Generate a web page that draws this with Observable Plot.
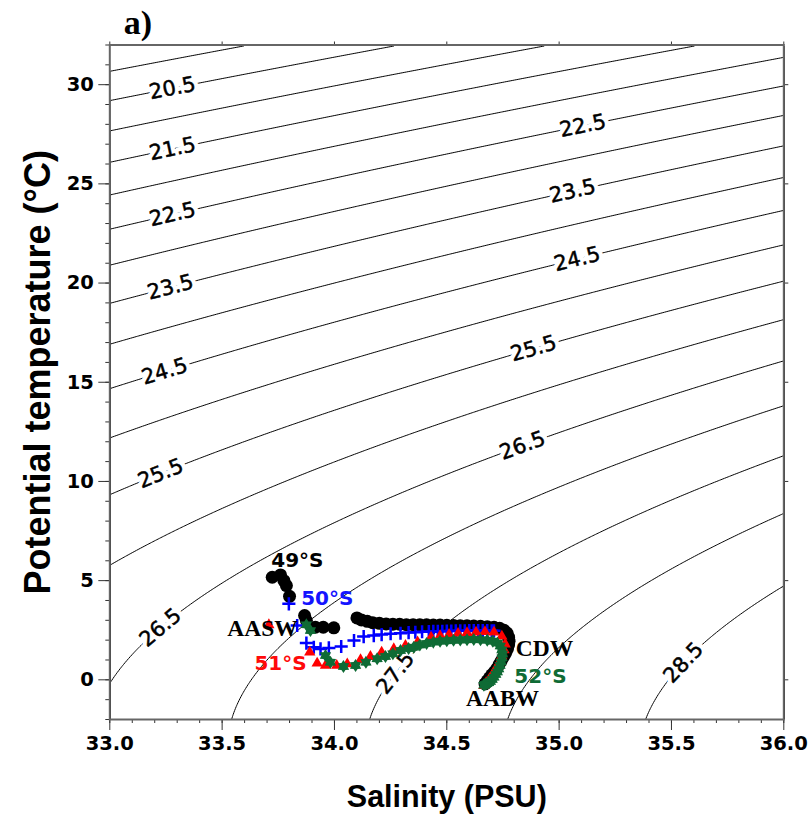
<!DOCTYPE html>
<html><head><meta charset="utf-8">
<script src="https://cdn.jsdelivr.net/npm/d3@7"></script>
<script src="https://cdn.jsdelivr.net/npm/@observablehq/plot@0.6"></script>
<style>html,body{margin:0;padding:0;background:#fff;overflow:hidden}</style>
</head><body><div id="chart"></div>
<script>
// ---- data ----
const isopycnals = [20, 20.5, 21, 21.5, 22, 22.5, 23, 23.5, 24, 24.5, 25, 25.5, 26, 26.5, 27, 27.5, 28, 28.5];
const contourLabelLevel = [20.5, 21.5, 22.5, 23.5, 24.5, 25.5, 26.5, 22.5, 23.5, 24.5, 25.5, 26.5, 27.5, 28.5];
const contourLabelS = [33.279, 33.279, 33.279, 33.27, 33.244, 33.226, 33.226, 35.105, 35.06, 35.08, 34.886, 34.837, 34.272, 35.553];

const s49 = [33.723, 33.76, 33.775, 33.786, 33.80, 33.867, 33.875, 33.915, 33.95, 33.997, 34.10, 34.12, 34.146, 34.17, 34.2, 34.23, 34.26, 34.29, 34.32, 34.35, 34.38, 34.41, 34.44, 34.47, 34.5, 34.53, 34.56, 34.59, 34.62, 34.65, 34.68, 34.71, 34.735, 34.755, 34.768, 34.775, 34.777, 34.775, 34.77, 34.762, 34.752, 34.742, 34.732, 34.722, 34.712, 34.70, 34.69, 34.68, 34.67];
const t49 = [5.17, 5.29, 5.0, 4.75, 4.21, 3.24, 2.99, 2.65, 2.65, 2.62, 3.12, 3.02, 2.95, 2.88, 2.85, 2.82, 2.8, 2.8, 2.78, 2.78, 2.77, 2.77, 2.76, 2.76, 2.75, 2.74, 2.73, 2.72, 2.71, 2.7, 2.68, 2.65, 2.6, 2.5, 2.35, 2.15, 1.95, 1.75, 1.55, 1.35, 1.15, 0.95, 0.75, 0.55, 0.4, 0.25, 0.1, -0.05, -0.2];

const s50 = [33.797, 33.834, 33.875, 33.908, 33.938, 33.975, 34.03, 34.087, 34.13, 34.175, 34.21, 34.25, 34.294, 34.33, 34.36, 34.39, 34.42, 34.44, 34.46, 34.48, 34.5, 34.52, 34.54, 34.56, 34.58, 34.6, 34.62, 34.64, 34.66, 34.68, 34.70, 34.71];
const t50 = [3.83, 2.74, 1.85, 1.64, 1.56, 1.61, 1.68, 1.98, 2.18, 2.23, 2.28, 2.32, 2.35, 2.38, 2.4, 2.42, 2.43, 2.44, 2.44, 2.45, 2.46, 2.46, 2.47, 2.47, 2.47, 2.48, 2.48, 2.48, 2.48, 2.48, 2.47, 2.47];

const s51 = [33.708, 33.89, 33.923, 33.96, 34.01, 34.057, 34.116, 34.16, 34.21, 34.264, 34.316, 34.37, 34.43, 34.47, 34.51, 34.55, 34.59, 34.63, 34.67, 34.71, 34.745, 34.76, 34.755, 34.745, 34.735, 34.72, 34.705, 34.69, 34.675, 34.665];
const t51 = [2.77, 1.39, 0.84, 0.72, 0.72, 0.8, 1.01, 1.17, 1.39, 1.56, 1.73, 1.9, 2.15, 2.22, 2.28, 2.33, 2.37, 2.4, 2.42, 2.4, 2.2, 1.8, 1.5, 1.2, 0.9, 0.6, 0.3, 0.05, -0.15, -0.3];

const s52 = [33.875, 33.893, 33.96, 33.982, 34.04, 34.094, 34.14, 34.19, 34.227, 34.26, 34.294, 34.33, 34.353, 34.38, 34.41, 34.44, 34.47, 34.5, 34.53, 34.56, 34.59, 34.62, 34.65, 34.68, 34.705, 34.725, 34.738, 34.745, 34.748, 34.746, 34.742, 34.737, 34.731, 34.725, 34.718, 34.71, 34.702, 34.694, 34.686, 34.678, 34.67, 34.665];
const t52 = [2.77, 2.48, 1.22, 0.89, 0.67, 0.72, 0.88, 1.06, 1.17, 1.32, 1.48, 1.58, 1.64, 1.75, 1.83, 1.9, 1.94, 1.97, 1.99, 2.01, 2.02, 2.03, 2.02, 2.0, 1.95, 1.85, 1.7, 1.5, 1.3, 1.1, 0.9, 0.72, 0.55, 0.4, 0.27, 0.13, 0.02, -0.08, -0.15, -0.2, -0.24, -0.27];

const stationText = ["49°S", "50°S", "51°S", "52°S"];
const stationS = [33.835, 33.968, 33.76, 34.917];
const stationT = [6.03, 4.10, 0.82, 0.17];
const waterText = ["AASW", "CDW", "AABW"];
const waterS = [33.68, 34.935, 34.748];
const waterT = [2.59, 1.58, -0.95];

const xMajor = [33.0, 33.5, 34.0, 34.5, 35.0, 35.5, 36.0];
const xMinor = d3.range(330, 361).map(d => d / 10);
const yMajor = [0, 5, 10, 15, 20, 25, 30];
const yMinor = d3.range(-2, 33);

// ---- UNESCO EOS-80 potential density anomaly (p = 0) ----
function sigma0(S, T) {
  const rw = 999.842594 + 6.793952e-2 * T - 9.095290e-3 * T ** 2 + 1.001685e-4 * T ** 3 - 1.120083e-6 * T ** 4 + 6.536332e-9 * T ** 5;
  const A = 8.24493e-1 - 4.0899e-3 * T + 7.6438e-5 * T ** 2 - 8.2467e-7 * T ** 3 + 5.3875e-9 * T ** 4;
  const B = -5.72466e-3 + 1.0227e-4 * T - 1.6546e-6 * T ** 2;
  const C = 4.8314e-4;
  return rw + A * S + B * Math.pow(S, 1.5) + C * S * S - 1000;
}
function tempOnIsopycnal(S, level) {
  let lo = -3, hi = 40;
  for (let i = 0; i < 60; i++) {
    const mid = (lo + hi) / 2;
    if (sigma0(S, mid) > level) lo = mid; else hi = mid;
  }
  return (lo + hi) / 2;
}

// ---- layout ----
const W = 812, H = 817;
const ml = 109.3, mr = 28.7, mt = 44.5, mb = 98;
const kx = (W - ml - mr) / 3, ky = (H - mt - mb) / 34;

const contourLabels = contourLabelLevel.map((lev, i) => {
  const S = contourLabelS[i];
  const T = tempOnIsopycnal(S, lev);
  const e = 1e-4;
  const dS = (sigma0(S + e, T) - sigma0(S - e, T)) / (2 * e);
  const dT = (sigma0(S, T + e) - sigma0(S, T - e)) / (2 * e);
  const px = -dT * kx, py = -dS * ky;
  const angle = Math.atan2(py, px) * 180 / Math.PI;
  return {S, T, text: lev.toFixed(1), angle};
});

const tbl = (s, t) => s.map((v, i) => ({S: v, T: t[i]}));
const d49 = tbl(s49, t49), d50 = tbl(s50, t50), d51 = tbl(s51, t51), d52 = tbl(s52, t52);
const stations = stationText.map((t, i) => ({text: t, S: stationS[i], T: stationT[i]}));
const waters = waterText.map((t, i) => ({text: t, S: waterS[i], T: waterT[i]}));

const hexagram = {
  draw(ctx, size) {
    const R = Math.sqrt(size / Math.PI), r = R * 0.62;
    for (let i = 0; i < 12; i++) {
      const a = Math.PI / 6 * i - Math.PI / 2;
      const rad = i % 2 ? r : R;
      const x = rad * Math.cos(a), y = rad * Math.sin(a);
      if (i === 0) ctx.moveTo(x, y); else ctx.lineTo(x, y);
    }
    ctx.closePath();
  }
};

const green = "#0f6b35";
const sans = "Liberation Sans, Arial, sans-serif";
const wide = "DejaVu Sans, Verdana, sans-serif";
const serif = "Liberation Serif, Times New Roman, serif";
const stationColor = {"49°S": "black", "50°S": "#1414ff", "51°S": "#ff0a0a", "52°S": green};

const chart = Plot.plot({
  width: W, height: H,
  marginLeft: ml, marginRight: mr, marginTop: mt, marginBottom: mb,
  style: {fontFamily: sans, background: "#fff"},
  x: {domain: [33, 36], label: null},
  y: {domain: [-2, 32], label: null},
  marks: [
    Plot.contour({
      value: (x, y) => sigma0(x, y),
      x1: 33, x2: 36, y1: -2, y2: 32,
      thresholds: isopycnals,
      stroke: "black", fill: "none", strokeWidth: 1
    }),
    Plot.text(contourLabels, {
      x: "S", y: "T", text: "text", rotate: "angle", fontFamily: wide,
      fontSize: 21, fill: "white", stroke: "white", strokeWidth: 9
    }),
    Plot.text(contourLabels, {
      x: "S", y: "T", text: "text", rotate: "angle", fontFamily: wide,
      fontSize: 21, fill: "black", stroke: "black", strokeWidth: 0.5
    }),
    // minor ticks
    Plot.axisX({ticks: xMinor, tickSize: 4, tickFormat: () => "", label: null, stroke: "#333"}),
    Plot.axisY({ticks: yMinor, tickSize: 4, tickFormat: () => "", label: null, stroke: "#333"}),
    // major ticks
    Plot.axisX({ticks: xMajor, tickSize: 11, tickPadding: 6, tickFormat: d => d.toFixed(1), label: null, fontFamily: wide, fontSize: 19.5, fontWeight: "bold", fill: "black", stroke: "#333"}),
    Plot.axisY({ticks: yMajor, tickSize: 11, tickPadding: 5, tickFormat: d => String(d), label: null, fontFamily: wide, fontSize: 19.5, fontWeight: "bold", fill: "black", stroke: "#333"}),
    Plot.axisX({anchor: "top", ticks: xMajor, tickSize: 4, tickFormat: () => "", label: null, stroke: "#333"}),
    Plot.axisY({anchor: "right", ticks: yMajor, tickSize: 4, tickFormat: () => "", label: null, stroke: "#333"}),
    Plot.frame({stroke: "#666", strokeWidth: 2}),
    // data
    Plot.dot(d49, {x: "S", y: "T", r: 6.5, fill: "black", stroke: "none"}),
    Plot.dot(d50, {x: "S", y: "T", symbol: "plus", r: 4.3, stroke: "#0000ff", strokeWidth: 2.5}),
    Plot.dot(d51, {x: "S", y: "T", symbol: "triangle", r: 4.2, fill: "#ff0000", stroke: "none"}),
    Plot.dot(d52, {x: "S", y: "T", symbol: hexagram, r: 6.5, fill: green, stroke: "none"}),
    // annotations
    Plot.text(stations, {x: "S", y: "T", text: "text", fontFamily: wide, fontSize: 20, fontWeight: "bold",
      fill: (d) => stationColor[d.text]}),
    Plot.text(waters, {x: "S", y: "T", text: "text", fontSize: 23.5, fontWeight: "bold", fontFamily: serif, fill: "black"}),
    Plot.text(["Salinity (PSU)"], {frameAnchor: "bottom", textAnchor: "middle", lineAnchor: "middle", dy: 78, fontSize: 30.5, fontWeight: "bold", fill: "black"}),
    Plot.text(["Potential temperature (°C)"], {frameAnchor: "left", textAnchor: "middle", lineAnchor: "middle", dx: -71, dy: -10, rotate: -90, fontSize: 36, fontWeight: "bold", fill: "black"}),
    Plot.text(["a)"], {frameAnchor: "top-left", textAnchor: "middle", lineAnchor: "middle", dx: 28, dy: -22, fontSize: 34, fontWeight: "bold", fontFamily: serif, fill: "black"})
  ]
});
document.getElementById("chart").appendChild(chart);
</script>
</body></html>
